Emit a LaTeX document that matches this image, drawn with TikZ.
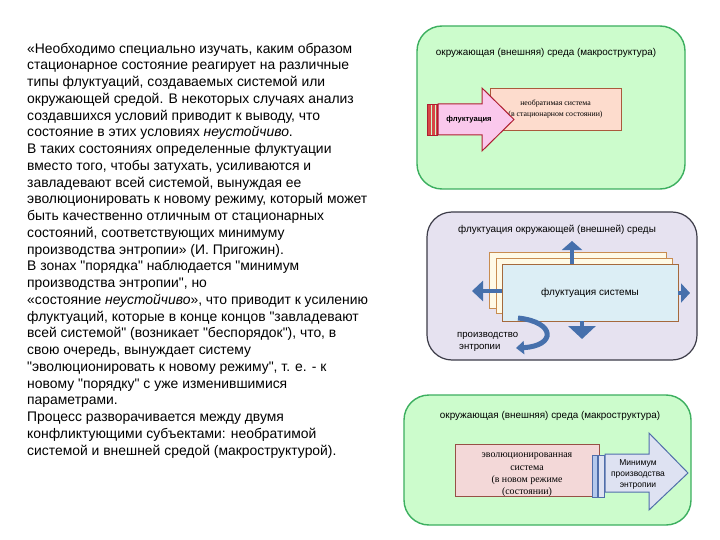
\documentclass[tikz,border=0pt]{standalone}
\usepackage{fontspec}
\setmainfont{Liberation Sans}[Ligatures=TeXOff]
\newfontfamily\serifru{Liberation Serif}
\usetikzlibrary{arrows.meta}
\definecolor{pgreen}{RGB}{204,252,204}
\definecolor{pgreenb}{RGB}{60,175,95}
\definecolor{plav}{RGB}{230,226,240}
\definecolor{plavb}{RGB}{60,60,72}
\definecolor{peach}{RGB}{253,220,205}
\definecolor{peachb}{RGB}{170,90,60}
\definecolor{apink}{RGB}{250,200,236}
\definecolor{apinkb}{RGB}{175,30,50}
\definecolor{ared}{RGB}{215,70,70}
\definecolor{bluea}{RGB}{70,112,172}
\definecolor{stackf}{RGB}{255,250,230}
\definecolor{stackb}{RGB}{200,140,80}
\definecolor{frontf}{RGB}{220,238,245}
\definecolor{frontb}{RGB}{165,105,60}
\definecolor{rosef}{RGB}{243,216,216}
\definecolor{roseb}{RGB}{150,80,70}
\definecolor{alav}{RGB}{222,226,242}
\definecolor{alavb}{RGB}{80,110,170}
\definecolor{bstripe}{RGB}{180,200,236}
\tikzset{
  greenpanel/.style={draw=pgreenb, fill=pgreen, line width=1.4pt, rounded corners=25pt},
  lavpanel/.style={draw=plavb, fill=plav, line width=1.2pt, rounded corners=25pt},
  paneltitle/.style={inner sep=0, font=\fontsize{9.9}{11}\selectfont},
  boxnode/.style={draw, line width=0.9pt, inner sep=0},
  bluearrow/.style={draw=bluea, line width=4pt},
}
\begin{document}
\begin{tikzpicture}[x=1pt,y=-1pt]
\useasboundingbox (0,0) rectangle (720,540);
\fill[white] (0,0) rectangle (720,540);

% left text
\node[anchor=base west, align=left, inner sep=0, font=\fontsize{13.9}{16.75}\selectfont] (quote) at (27,455) {%
«Необходимо специально изучать, каким образом\\
стационарное состояние реагирует на различные\\
типы флуктуаций, создаваемых системой или\\
окружающей средой. В некоторых случаях анализ\\
создавшихся условий приводит к выводу, что\\
состояние в этих условиях \textit{неустойчиво}.\\
В таких состояниях определенные флуктуации\\
вместо того, чтобы затухать, усиливаются и\\
завладевают всей системой, вынуждая ее\\
эволюционировать к новому режиму, который может\\
быть качественно отличным от стационарных\\
состояний, соответствующих минимуму\\
производства энтропии» (И. Пригожин).\\
В зонах "порядка" наблюдается "минимум\\
производства энтропии", но\\
«состояние \textit{неустойчиво}», что приводит к усилению\\
флуктуаций, которые в конце концов "завладевают\\
всей системой" (возникает "беспорядок"), что, в\\
свою очередь, вынуждает систему\\
"эволюционировать к новому режиму", т. е. - к\\
новому "порядку" с уже изменившимися\\
параметрами.\\
Процесс разворачивается между двумя\\
конфликтующими субъектами: необратимой\\
системой и внешней средой (макроструктурой).};

% ===== panel 1 =====
\draw[greenpanel] (417,26) rectangle (685,189);
\node[paneltitle] (t1) at (546,53) {окружающая (внешняя) среда (макроструктура)};
\node[boxnode, draw=peachb, fill=peach, minimum width=131pt, minimum height=42pt,
      align=center, font=\serifru\fontsize{7.8}{11}\selectfont] (irr) at (555.5,109)
      {необратимая система\\(в стационарном состоянии)};
\fill[ared] (427,104) rectangle (431,135);
\fill[ared] (432,104) rectangle (434.5,135);
\fill[ared] (435.5,104) rectangle (437.5,135);
\draw[apinkb, line width=0.6pt] (427,104) rectangle (437.5,135);
\draw[apinkb, fill=apink, line width=1pt, line join=miter]
  (438,104) -- (482,104) -- (482,88) -- (514,119.5) -- (482,151) -- (482,135) -- (438,135) -- cycle;
\node[inner sep=0, font=\bfseries\fontsize{7.6}{9}\selectfont] (fl) at (469,120) {флуктуация};

% ===== panel 2 =====
\draw[lavpanel] (427,212) rectangle (697,360);
\node[paneltitle] (t2) at (557,230) {флуктуация окружающей (внешней) среды};
\node[boxnode, draw=stackb, fill=stackf, minimum width=177pt, minimum height=56pt] (s1) at (578,280) {};
\node[boxnode, draw=stackb, fill=stackf, minimum width=176pt, minimum height=55pt] (s2) at (584,285.5) {};
\coordinate (upend) at (572,241);
\coordinate (leftend) at (472,291);
\draw[bluearrow, -{Triangle[length=9pt,width=20pt]}] (572,266) -- (upend);
\draw[bluearrow, -{Triangle[length=11pt,width=20pt]}] (504,291) -- (leftend);
\node[boxnode, draw=frontb, fill=frontf, minimum width=176pt, minimum height=57pt,
      font=\fontsize{10}{11}\selectfont] (front) at (590,292.5) {флуктуация системы};
\coordinate (rightend) at (690,293);
\coordinate (downend) at (582,339);
\draw[bluearrow, -{Triangle[length=9pt,width=19pt]}] (front.east |- rightend) -- (rightend);
\draw[bluearrow, -{Triangle[length=13pt,width=27pt]}] (front.south -| downend) -- (downend);
\coordinate (entend) at (516,348);
\draw[draw=bluea, line width=5pt, -{Triangle[length=8pt,width=13pt]}]
  (518,318) .. controls (556,322) and (556,346) .. (entend);
\node[anchor=west, align=left, inner sep=0, font=\fontsize{9.6}{12}\selectfont] (ent) at (457,342)
  {производство\\\hspace*{2pt}энтропии};

% ===== panel 3 =====
\draw[greenpanel] (404,395) rectangle (691,525);
\node[paneltitle] (t3) at (550,416) {окружающая (внешняя) среда (макроструктура)};
\node[boxnode, draw=roseb, fill=rosef, minimum width=144pt, minimum height=52pt] (evo) at (527,470) {};
\node[align=center, inner sep=0, font=\serifru\fontsize{9.9}{12.2}\selectfont] (evot) at (527,475)
      {эволюционированная\\система\\(в новом режиме\\(состоянии)};
\draw[alavb, fill=bstripe, line width=0.7pt] (592,455) rectangle (597,497);
\draw[alavb, fill=alav, line width=0.7pt] (598.5,455) rectangle (604,497);
\draw[alavb, fill=alav, line width=1pt, line join=miter]
  (605,454) -- (649,454) -- (649,433) -- (688,473) -- (649,510) -- (649,492) -- (605,492) -- cycle;
\node[align=center, inner sep=0, font=\fontsize{8.5}{11}\selectfont] (minp) at (638,474)
  {Минимум\\производства\\энтропии};
\end{tikzpicture}
\end{document}
